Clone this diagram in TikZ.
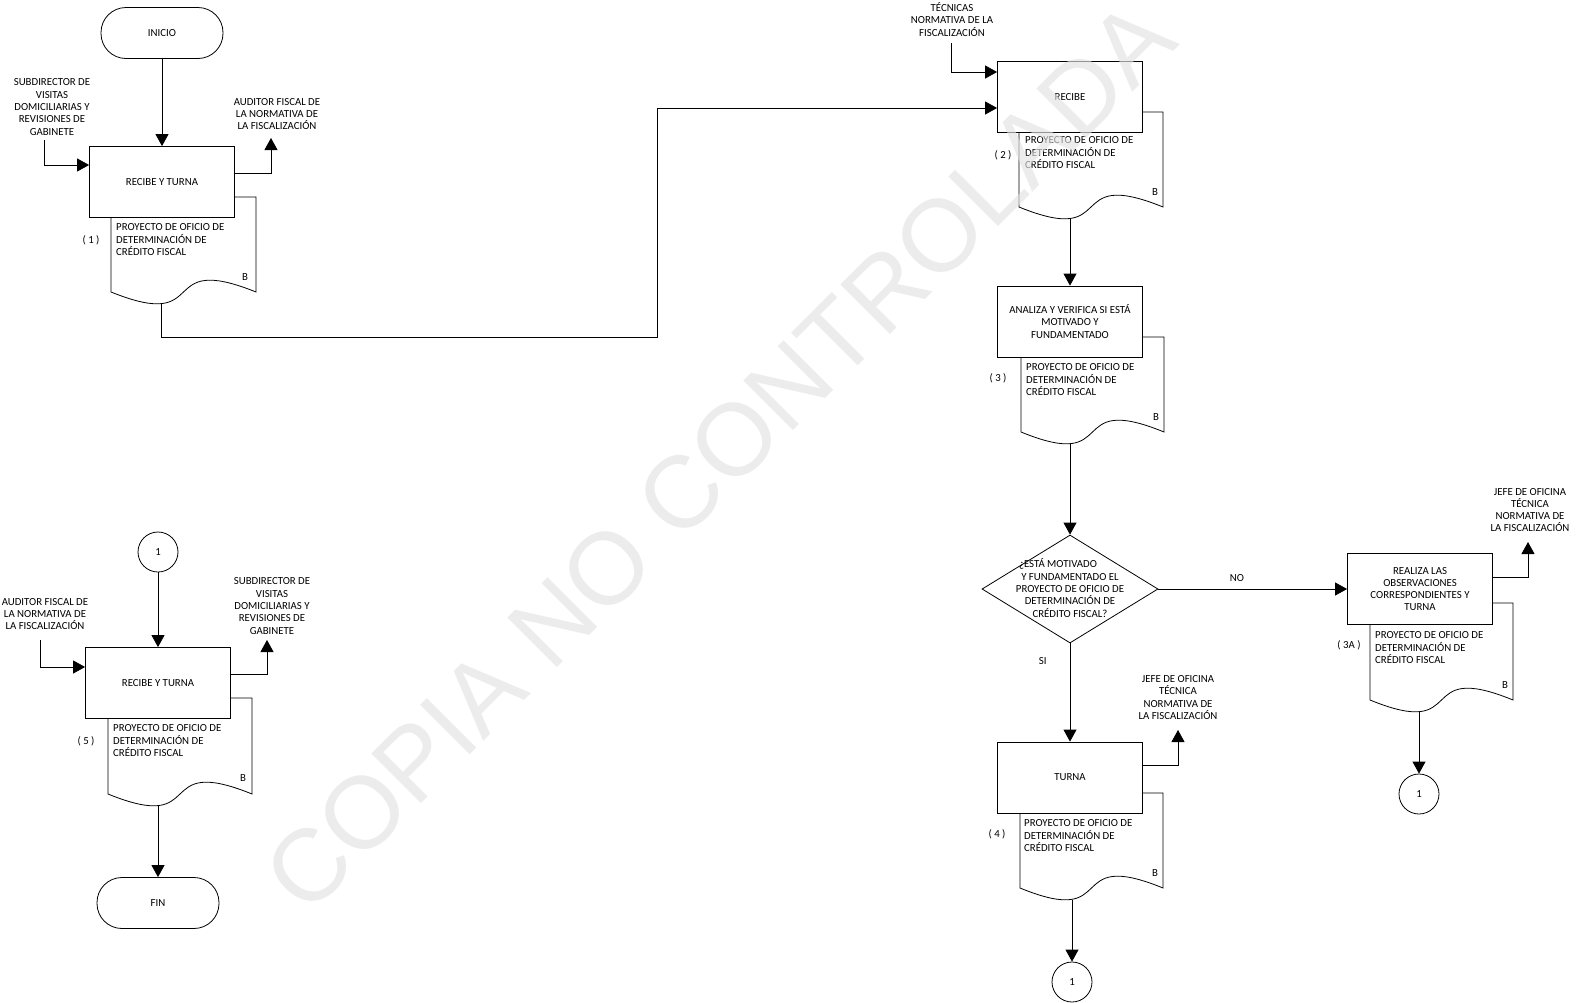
\documentclass[tikz,border=0pt]{standalone}
\usepackage{fontspec}
\setmainfont{Carlito}
\newfontfamily\wmfont{Liberation Sans}
\usetikzlibrary{arrows.meta,shapes.geometric}
\definecolor{wmgray}{RGB}{226,226,226}
\newcommand\docpath[4]{\path[docline] (#1,#3) -- (#1,#4) .. controls ({#1+0.7*(#2-#1)},{#4+41}) and ({#1+0.3*(#2-#1)},{#4-41}) .. (#2,#4) -- (#2,#3) -- cycle;}
\begin{document}
\begin{tikzpicture}[x=1pt,y=-1pt,
  every node/.style={font=\fontsize{10.8}{12.3}\selectfont, inner sep=0pt},
  proc/.style={draw, fill=white, line width=0.8pt, minimum width=145pt, minimum height=71pt, align=center},
  term/.style={draw, fill=white, line width=0.8pt, rounded corners=25pt, minimum width=122pt, minimum height=51pt},
  conn/.style={draw, circle, fill=white, line width=0.8pt, minimum size=40pt},
  dec/.style={draw, diamond, fill=white, line width=0.8pt, minimum width=176pt, minimum height=108pt, aspect=1.63},
  txt/.style={align=center},
  doctxt/.style={align=left, anchor=north west},
  flow/.style={draw, line width=0.8pt, -{Triangle[width=13pt,length=12pt]}},
  docline/.style={draw, fill=white, line width=0.8pt}
]
\useasboundingbox (0,0) rectangle (1583,1002);
\fill[white] (0,0) rectangle (1583,1002);

% ---------- column 1 (top) ----------
\node[term] (ini) at (162,33) {INICIO};
\docpath{111}{256}{197}{292}
\node[proc] (b1) at (162,182) {RECIBE Y TURNA};
\node[doctxt] (t1) at (116,223.5) {PROYECTO DE OFICIO DE\\DETERMINACIÓN DE\\CRÉDITO FISCAL};
\node (n1) at (91,240) {( 1 )};
\node (bb1) at (245,277) {B};
\node[txt] (s1) at (52,107) {SUBDIRECTOR DE\\VISITAS\\DOMICILIARIAS Y\\REVISIONES DE\\GABINETE};
\node[txt] (a1) at (277,114) {AUDITOR FISCAL DE\\LA NORMATIVA DE\\LA FISCALIZACIÓN};
\coordinate (s1p) at (44,140);
\coordinate (a1p) at (271,138);
\coordinate (d1) at (161,304);
\coordinate (k1) at (657,108);

% ---------- column 2 ----------
\docpath{1019}{1163}{112}{207}
\node[proc] (b2) at (1070,97) {RECIBE};
\node[doctxt] (t2) at (1025,136.5) {PROYECTO DE OFICIO DE\\DETERMINACIÓN DE\\CRÉDITO FISCAL};
\node (n2) at (1003,155) {( 2 )};
\node (bb2) at (1155,192) {B};
\node[txt] (te) at (952,19.5) {TÉCNICAS\\NORMATIVA DE LA\\FISCALIZACIÓN};
\coordinate (tep) at (951,43);
\coordinate (d2) at (1070,219);

\docpath{1021}{1164}{337}{432}
\node[proc] (b3) at (1070,321.5) {ANALIZA Y VERIFICA SI ESTÁ\\MOTIVADO Y\\FUNDAMENTADO};
\node[doctxt] (t3) at (1026,363.5) {PROYECTO DE OFICIO DE\\DETERMINACIÓN DE\\CRÉDITO FISCAL};
\node (n3) at (998,378) {( 3 )};
\node (bb3) at (1156,417) {B};
\coordinate (d3) at (1070,444);

\node[dec] (q) at (1070,589) {};
\node[txt] (qt) at (1070,588) {¿ESTÁ MOTIVADO\hspace*{24pt}\\Y FUNDAMENTADO EL\\PROYECTO DE OFICIO DE\\DETERMINACIÓN DE\\CRÉDITO FISCAL?};

\docpath{1020}{1163}{793}{888}
\node[proc] (b5) at (1070,777.5) {TURNA};
\node[doctxt] (t4) at (1024,819.5) {PROYECTO DE OFICIO DE\\DETERMINACIÓN DE\\CRÉDITO FISCAL};
\node (n4) at (997,834) {( 4 )};
\node (bb4) at (1155,873) {B};
\node[txt] (j2) at (1178,697.5) {JEFE DE OFICINA\\TÉCNICA\\NORMATIVA DE\\LA FISCALIZACIÓN};
\coordinate (j2p) at (1178,730);
\coordinate (d4) at (1072,900);
\node[conn] (c2) at (1072,982) {1};

% ---------- column 3 ----------
\docpath{1370}{1513}{603}{700}
\node[proc] (b4) at (1420,589) {REALIZA LAS\\OBSERVACIONES\\CORRESPONDIENTES Y\\TURNA};
\node[doctxt] (t3a) at (1375,631.5) {PROYECTO DE OFICIO DE\\DETERMINACIÓN DE\\CRÉDITO FISCAL};
\node (n3a) at (1349,645) {( 3A )};
\node (bb3a) at (1505,685) {B};
\node[txt] (j1) at (1530,510) {JEFE DE OFICINA\\TÉCNICA\\NORMATIVA DE\\LA FISCALIZACIÓN};
\coordinate (j1p) at (1528,542);
\coordinate (d3a) at (1419,712);
\node[conn] (c1) at (1419,794) {1};

% ---------- column 1 (bottom) ----------
\node[conn] (c3) at (158,552) {1};
\docpath{108}{252}{698}{794}
\node[proc] (b6) at (158,683) {RECIBE Y TURNA};
\node[doctxt] (t5) at (113,724.5) {PROYECTO DE OFICIO DE\\DETERMINACIÓN DE\\CRÉDITO FISCAL};
\node (n5) at (86,741) {( 5 )};
\node (bb5) at (243,778) {B};
\node[txt] (au) at (45,614) {AUDITOR FISCAL DE\\LA NORMATIVA DE\\LA FISCALIZACIÓN};
\node[txt] (sd) at (272,606) {SUBDIRECTOR DE\\VISITAS\\DOMICILIARIAS Y\\REVISIONES DE\\GABINETE};
\coordinate (aup) at (40,640);
\coordinate (sdp) at (267,640);
\coordinate (d5) at (158,806);
\node[term] (fin) at (158,903) {FIN};

% ---------- connectors ----------
\draw[flow] (ini.south) -- (b1.north);
\draw[flow] (s1p) |- ([yshift=17pt]b1.west);
\draw[flow] ([yshift=9pt]b1.east) -| (a1p);
\draw[flow] (d1) -- (161,337) -- (657,337) -- (k1) -- (b2.west |- k1);
\draw[flow] (tep) |- ([yshift=25pt]b2.west);
\draw[flow] (d2) -- (b3.north);
\draw[flow] (d3) -- (q.north);
\draw[flow] (q.east) -- node[pos=0.416, above=7pt] (lno) {NO} (b4.west);
\draw[flow] (q.south) -- node[pos=0.18, left=23pt] (lsi) {SI} (b5.north);
\draw[flow] ([yshift=12pt]b4.east) -| (j1p);
\draw[flow] (d3a) -- (c1.north);
\draw[flow] ([yshift=12.5pt]b5.east) -| (j2p);
\draw[flow] (d4) -- (c2.north);
\draw[flow] (c3.south) -- (b6.north);
\draw[flow] (aup) |- ([yshift=16pt]b6.west);
\draw[flow] ([yshift=9pt]b6.east) -| (sdp);
\draw[flow] (d5) -- (fin.north);

% ---------- watermark ----------
\node[font=\wmfont\fontsize{102}{102}\selectfont, text=wmgray, text opacity=0.65, rotate=45] (wm) at (719,456) {COPIA NO CONTROLADA};
\end{tikzpicture}
\end{document}
